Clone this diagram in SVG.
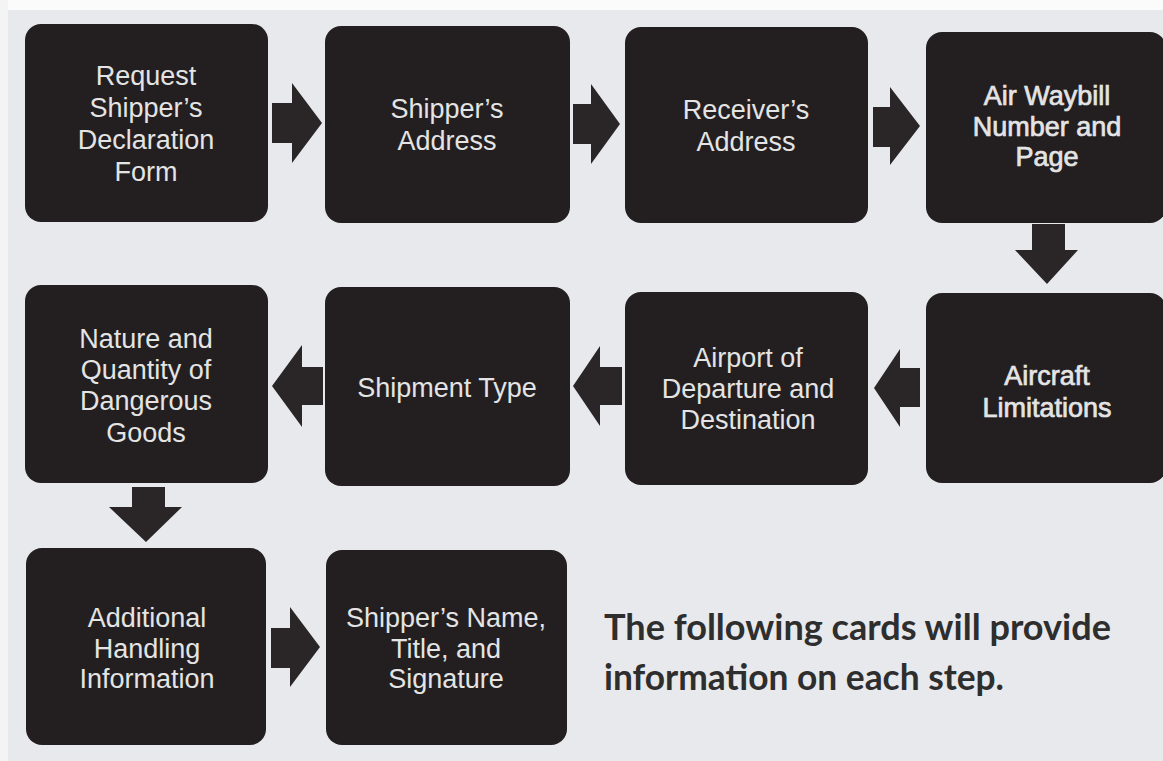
<svg xmlns="http://www.w3.org/2000/svg" width="1163" height="761" viewBox="0 0 1163 761">
<style>
.box{fill:#231f20;}
.arr{fill:#2a2627;}
.t{font-family:"Liberation Sans",Arial,sans-serif;font-size:27px;fill:#e4e4e4;text-anchor:middle;}
.tb{stroke:#e4e4e4;stroke-width:0.7;}
.note{font-family:Lato,"Open Sans",sans-serif;font-weight:bold;font-size:36px;fill:#2e2e2e;}
</style>
<rect x="0" y="0" width="1163" height="761" fill="#e8e9ec"/>
<rect x="0" y="0" width="1163" height="10" fill="#fbfbfb"/>
<rect x="0" y="0" width="8" height="761" fill="#f4f4f5"/>
<g id="connectors">
<polygon class="arr" points="272,103 292,103 292,83 322,123 292,163 292,143 272,143"/>
<polygon class="arr" points="573,104 591,104 591,84 620,124 591,164 591,144 573,144"/>
<polygon class="arr" points="873,107 890,107 890,87 920,126 890,165 890,147 873,147"/>
<polygon class="arr" points="1032,224 1065,224 1065,250 1078,250 1047,284 1015,250 1032,250"/>
<polygon class="arr" points="920,368 900,368 900,349 874,388 900,427 900,407 920,407"/>
<polygon class="arr" points="622,367 600,367 600,346 573,386 600,426 600,405 622,405"/>
<polygon class="arr" points="323,367 302,367 302,345 272,386 302,427 302,405 323,405"/>
<polygon class="arr" points="132,487 165,487 165,507 182,507 146,542 109,507 132,507"/>
<polygon class="arr" points="271,628 290,628 290,607 320,647 290,687 290,668 271,668"/>
</g>
<g id="n1"><rect class="box" x="25" y="24" width="243" height="198" rx="16"/>
<text class="t" x="146" y="85">Request</text><text class="t" x="146" y="117">Shipper’s</text><text class="t" x="146" y="149">Declaration</text><text class="t" x="146" y="181">Form</text></g>
<g id="n2"><rect class="box" x="325" y="26" width="245" height="197" rx="16"/>
<text class="t" x="447" y="118">Shipper’s</text><text class="t" x="447" y="150">Address</text></g>
<g id="n3"><rect class="box" x="625" y="27" width="243" height="196" rx="16"/>
<text class="t" x="746" y="119">Receiver’s</text><text class="t" x="746" y="151">Address</text></g>
<g id="n4"><rect class="box" x="926" y="32" width="240" height="191" rx="16"/>
<text class="t tb" x="1047" y="105">Air Waybill</text><text class="t tb" x="1047" y="136">Number and</text><text class="t tb" x="1047" y="166">Page</text></g>
<g id="n8"><rect class="box" x="926" y="293" width="240" height="190" rx="16"/>
<text class="t tb" x="1047" y="385">Aircraft</text><text class="t tb" x="1047" y="417">Limitations</text></g>
<g id="n7"><rect class="box" x="625" y="292" width="243" height="193" rx="16"/>
<text class="t" x="748" y="367">Airport of</text><text class="t" x="748" y="398">Departure and</text><text class="t" x="748" y="429">Destination</text></g>
<g id="n6"><rect class="box" x="325" y="287" width="245" height="199" rx="16"/>
<text class="t" x="447" y="397">Shipment Type</text></g>
<g id="n5"><rect class="box" x="25" y="285" width="243" height="198" rx="16"/>
<text class="t" x="146" y="348">Nature and</text><text class="t" x="146" y="379">Quantity of</text><text class="t" x="146" y="410">Dangerous</text><text class="t" x="146" y="442">Goods</text></g>
<g id="n9"><rect class="box" x="26" y="548" width="240" height="197" rx="16"/>
<text class="t" x="147" y="627">Additional</text><text class="t" x="147" y="658">Handling</text><text class="t" x="147" y="688">Information</text></g>
<g id="n10"><rect class="box" x="326" y="550" width="241" height="195" rx="16"/>
<text class="t" x="446" y="627">Shipper’s Name,</text><text class="t" x="446" y="658">Title, and</text><text class="t" x="446" y="688">Signature</text></g>
<text class="note" x="604" y="640" textLength="507" lengthAdjust="spacingAndGlyphs">The following cards will provide</text>
<text class="note" x="604" y="690" textLength="400" lengthAdjust="spacingAndGlyphs">information on each step.</text>
</svg>
